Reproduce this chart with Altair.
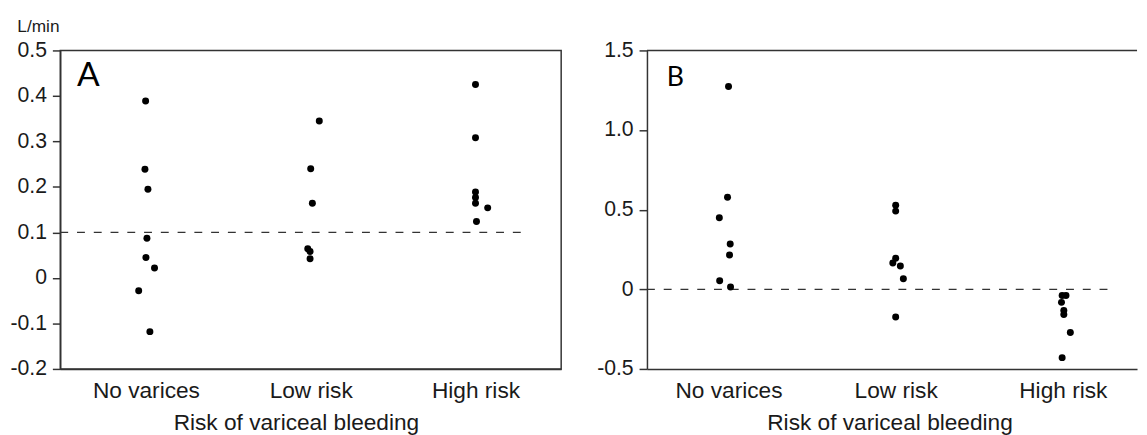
import altair as alt
import pandas as pd

categories = ["No varices", "Low risk", "High risk"]

# Panel A (L/min)
a_group = [0] * 8 + [1] * 6 + [2] * 7
a_values = [0.389, 0.239, 0.195, 0.087, 0.045, 0.022, -0.028, -0.118,
            0.345, 0.240, 0.164, 0.064, 0.058, 0.042,
            0.425, 0.308, 0.189, 0.177, 0.164, 0.154, 0.124]
a_jitter = [-0.002, -0.006, 0.012, 0.006, 0.0, 0.052, -0.044, 0.024,
            0.052, 0.0, 0.010, -0.018, -0.004, -0.004,
            0.0, 0.0, 0.0, 0.0, 0.0, 0.074, 0.006]
a_ticks = [-0.2, -0.1, 0.0, 0.1, 0.2, 0.3, 0.4, 0.5]
a_ref = 0.1

# Panel B
b_group = [0] * 7 + [1] * 7 + [2] * 7
b_values = [1.274, 0.578, 0.450, 0.284, 0.216, 0.054, 0.015,
            0.528, 0.491, 0.195, 0.165, 0.146, 0.066, -0.174,
            -0.039, -0.039, -0.082, -0.133, -0.158, -0.271, -0.429]
b_jitter = [0.0, -0.006, -0.055, 0.010, 0.006, -0.053, 0.012,
            0.0, 0.0, 0.0, -0.017, 0.028, 0.046, 0.0,
            -0.004, 0.019, -0.008, 0.006, 0.006, 0.045, -0.004]
b_ticks = [-0.5, 0.0, 0.5, 1.0, 1.5]
b_ref = 0.0

FONT = "Liberation Sans"
INK = "#1a1a1a"
LINE = "#333333"

A_W, A_H = 508, 323
B_W, B_H = 497, 323
A_XDOM = [-0.52, 2.52]
B_XDOM = [-0.488, 2.444]
REF_END = 2.31

label_list = "[" + ",".join("'" + c + "'" for c in categories) + "]"
x_label_expr = label_list + "[datum.value]"
y_label_expr = ("datum.value < 0 ? '-' + format(-datum.value, '.1f') : "
                "(datum.value == 0 ? '0' : format(datum.value, '.1f'))")


def panel(groups, values, jitter, ticks, ref, xdom, w, h, letter, letter_size,
          letter_dx, letter_dy, title_x, show_unit, frame):
    df = pd.DataFrame({"g": groups, "v": values, "j": jitter})
    df["x"] = df["g"] + df["j"]
    ydom = [ticks[0], ticks[-1]]

    yaxis_kwargs = dict(
        values=ticks, labelExpr=y_label_expr, grid=False,
        tickSize=8, labelPadding=6, labelFontSize=21.5, labelFont=FONT,
        labelColor=INK, domainColor=LINE, domainWidth=1.5,
        tickColor=LINE, tickWidth=1.5,
    )
    if show_unit:
        yaxis_kwargs.update(
            title="L/min", titleAngle=0, titleAlign="left",
            titleBaseline="alphabetic", titleX=-44, titleY=-19,
            titleFontSize=17.5, titleFont=FONT, titleFontWeight="normal",
            titleColor=INK,
        )
    else:
        yaxis_kwargs.update(title=None)

    xscale = alt.Scale(domain=xdom, nice=False, zero=False)
    yscale = alt.Scale(domain=ydom, nice=False, zero=False)
    xaxis = alt.Axis(
        values=[0, 1, 2], labelExpr=x_label_expr, grid=False, ticks=False,
        tickSize=0, labelPadding=11, labelFontSize=23, labelFont=FONT,
        labelColor=INK, domainColor=LINE, domainWidth=1.5,
        title="Risk of variceal bleeding", titleFontSize=23, titleFont=FONT,
        titleFontWeight="normal", titleColor=INK, titlePadding=9,
        titleX=title_x, titleAlign="center",
    )

    pts = alt.Chart(df).mark_circle(size=50, color="black", opacity=1).encode(
        x=alt.X("x:Q", scale=xscale, axis=xaxis),
        y=alt.Y("v:Q", scale=yscale, axis=alt.Axis(**yaxis_kwargs)),
    )

    ref_df = pd.DataFrame({"x1": [xdom[0]], "x2": [REF_END], "y": [ref]})
    refline = alt.Chart(ref_df).mark_rule(
        color=LINE, strokeWidth=1.3, strokeDash=[8, 9]
    ).encode(x="x1:Q", x2="x2:Q", y="y:Q")

    lab_df = pd.DataFrame({"x": [xdom[0]], "y": [ydom[1]], "t": [letter]})
    lab = alt.Chart(lab_df).mark_text(
        align="left", baseline="alphabetic", dx=letter_dx, dy=letter_dy,
        fontSize=letter_size, font="Lato", color="black"
    ).encode(x="x:Q", y="y:Q", text="t:N")

    layers = [refline, pts, lab]
    if not frame:
        top_df = pd.DataFrame({"x1": [xdom[0]], "x2": [xdom[1]], "y": [ydom[1]]})
        top = alt.Chart(top_df).mark_rule(color=LINE, strokeWidth=1.5).encode(
            x="x1:Q", x2="x2:Q", y="y:Q")
        layers.append(top)

    ch = alt.layer(*layers).properties(width=w, height=h)
    if frame:
        ch = ch.properties(view=alt.ViewBackground(stroke=LINE, strokeWidth=1.5))
    else:
        ch = ch.properties(view=alt.ViewBackground(stroke="transparent"))
    return ch


pa = panel(a_group, a_values, a_jitter, a_ticks, a_ref, A_XDOM, A_W, A_H,
           "A", 34, 17, 36, 239, True, True)
pb = panel(b_group, b_values, b_jitter, b_ticks, b_ref, B_XDOM, B_W, B_H,
           "B", 27, 20, 36, 246, False, False)

chart = alt.hconcat(pa, pb, spacing=34).properties(
    padding={"left": 1, "top": 6, "right": 0, "bottom": 0},
    background="white",
).configure_view(stroke=None)

chart.save("out.html", embed_options={"renderer": "svg", "actions": False})
